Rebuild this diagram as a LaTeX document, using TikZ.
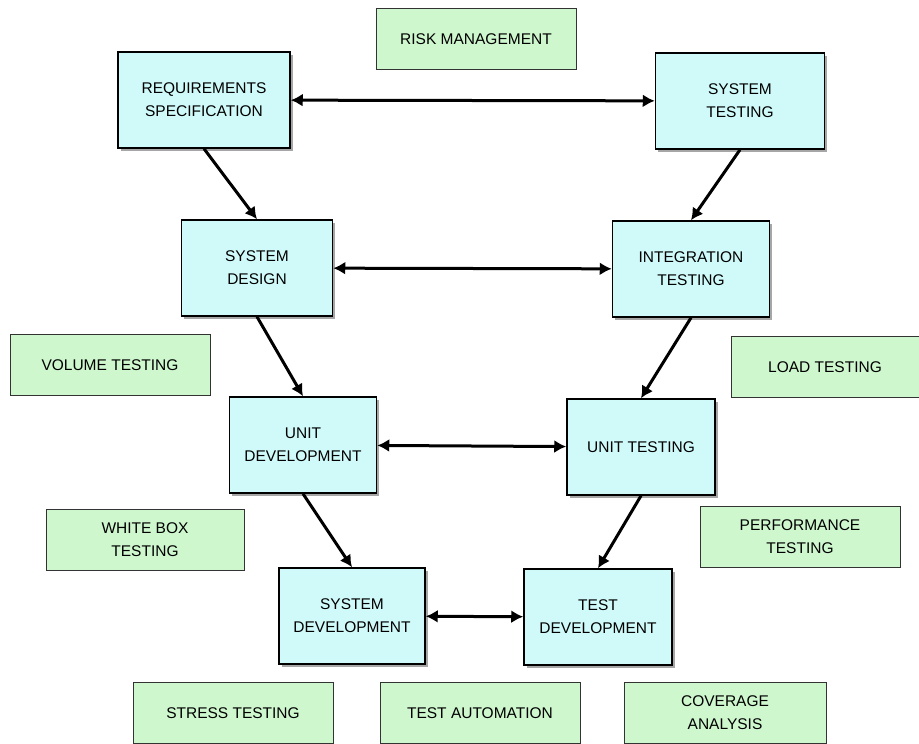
\documentclass[tikz,border=0pt]{standalone}
\usepackage{fontspec}
\setmainfont{Liberation Sans}
\usepackage{tikz}
\usetikzlibrary{arrows.meta,shadows}

\definecolor{phasecyan}{RGB}{208,250,250}
\definecolor{notegreen}{RGB}{206,247,206}

\begin{document}
\begin{tikzpicture}[x=1pt,y=-1pt]

\tikzstyle{phase}=[draw=black,line width=1.5pt,fill=phasecyan,minimum width=148pt,minimum height=96pt,inner sep=0pt,align=center,
  font=\fontsize{15.5}{23}\selectfont,drop shadow={shadow xshift=2.5pt,shadow yshift=-2.5pt,fill=gray!70,opacity=1}]
\tikzstyle{note}=[draw=black!80,line width=1pt,fill=notegreen,minimum width=200pt,minimum height=61pt,inner sep=0pt,align=center,
  font=\fontsize{15.5}{23}\selectfont]
\tikzstyle{link}=[line width=3pt,{Latex[length=12pt,width=13pt]}-{Latex[length=12pt,width=13pt]}]
\tikzstyle{down}=[line width=3pt,-{Latex[length=12pt,width=13pt]}]

\useasboundingbox (0,0) rectangle (919,744);

%left side of the V
\node [phase,minimum width=172pt] (reqspec) at (204,100) {REQUIREMENTS\\SPECIFICATION};
\node [phase,minimum width=151pt] (sysdesign) at (257,268) {SYSTEM\\DESIGN};
\node [phase,minimum width=147pt] (unitdev) at (303,445) {UNIT\\DEVELOPMENT};
\node [phase,minimum width=146pt] (sysdev) at (352,616) {SYSTEM\\DEVELOPMENT};

%right side of the V
\node [phase,minimum width=169pt] (systest) at (740,101) {SYSTEM\\TESTING};
\node [phase,minimum width=157pt] (inttest) at (691,269) {INTEGRATION\\TESTING};
\node [phase] (unittest) at (641,447) {UNIT TESTING};
\node [phase] (testdev) at (598,617) {TEST\\DEVELOPMENT};

%testing notes
\node [note] (risk) at (476,39) {RISK MANAGEMENT};
\node [note] (volume) at (110,365) {VOLUME TESTING};
\node [note,minimum width=188pt] (load) at (825,367) {LOAD TESTING};
\node [note,minimum width=198pt] (whitebox) at (145,540) {WHITE BOX\\TESTING};
\node [note] (perf) at (800,537) {PERFORMANCE\\TESTING};
\node [note] (stress) at (233,713) {STRESS TESTING};
\node [note] (autom) at (480,713) {TEST AUTOMATION};
\node [note,minimum width=202pt] (coverage) at (725,713) {COVERAGE\\ANALYSIS};

\path [link] (reqspec) edge (systest)
      [link] (sysdesign) edge (inttest)
      [link] (unitdev) edge (unittest)
      [link] (sysdev) edge (testdev);

\path [down] (reqspec.south) edge (sysdesign.north)
      [down] (sysdesign.south) edge (unitdev.north)
      [down] (unitdev.south) edge (sysdev.north)
      [down] (systest.south) edge (inttest.north)
      [down] (inttest.south) edge (unittest.north)
      [down] (unittest.south) edge (testdev.north);

\end{tikzpicture}
\end{document}
